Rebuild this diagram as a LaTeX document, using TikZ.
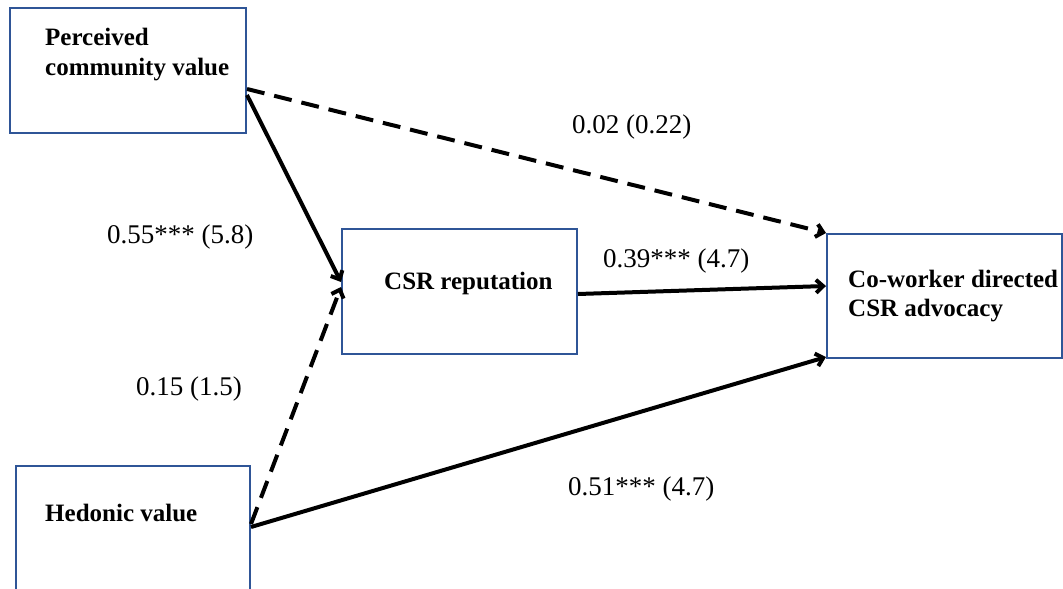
\documentclass[tikz,border=0pt]{standalone}
\usepackage{fontspec}
\setmainfont{Liberation Serif}
\usetikzlibrary{arrows.meta,calc}
\definecolor{boxblue}{RGB}{47,85,151}
\tikzset{
  box/.style={draw=boxblue, line width=2pt, rectangle, inner sep=0pt, fill=white},
  boxtext/.style={anchor=base west, inner sep=0pt, font=\fontsize{25}{30}\selectfont\bfseries, align=left},
  lbl/.style={anchor=base west, inner sep=0pt, font=\fontsize{27}{32}\selectfont},
  conn/.style={line width=4pt, -{Straight Barb[length=7pt,width=13pt,line width=4pt]}},
  dconn/.style={conn, dash pattern=on 18pt off 10pt}
}
\begin{document}
\begin{tikzpicture}[x=1pt,y=-1pt]
\clip (0,0) rectangle (1063,589);
\fill[white] (0,0) rectangle (1063,589);
% boxes
\node[box, minimum width=236pt, minimum height=125pt] (pcv) at (128,70.5) {};
\node[box, minimum width=235pt, minimum height=125pt] (csr) at (459.5,291.5) {};
\node[box, minimum width=235pt, minimum height=124pt] (adv) at (944.5,296) {};
\node[box, minimum width=234pt, minimum height=125pt] (hed) at (133,528.5) {};
% box texts
\node[boxtext] (t1) at (45,45) {Perceived};
\node[boxtext] (t2) at (45,75) {community value};
\node[boxtext] (t3) at (384,289) {CSR reputation};
\node[boxtext] (t4) at (848,287) {Co-worker directed};
\node[boxtext] (t5) at (848,316) {CSR advocacy};
\node[boxtext] (t6) at (45,521) {Hedonic value};
% connectors
\draw[dconn] ($(pcv.north east)+(0,82)$) -- (adv.north west);
\draw[conn] ($(pcv.north east)+(0,88)$) -- ($(csr.north west)+(0,54)$);
\draw[dconn] ($(hed.north east)+(0,59)$) -- ($(csr.north west)+(0,59)$);
\draw[conn] ($(csr.north east)+(0,66)$) -- ($(adv.north west)+(0,53)$);
\draw[conn] ($(hed.north east)+(0,62)$) -- ($(adv.south west)+(0,-2)$);
% labels
\node[lbl] (l1) at (572,133) {0.02 (0.22)};
\node[lbl] (l2) at (107,243) {0.55*** (5.8)};
\node[lbl] (l3) at (603,267) {0.39*** (4.7)};
\node[lbl] (l4) at (136,395) {0.15 (1.5)};
\node[lbl] (l5) at (568,495) {0.51*** (4.7)};
\end{tikzpicture}
\end{document}
